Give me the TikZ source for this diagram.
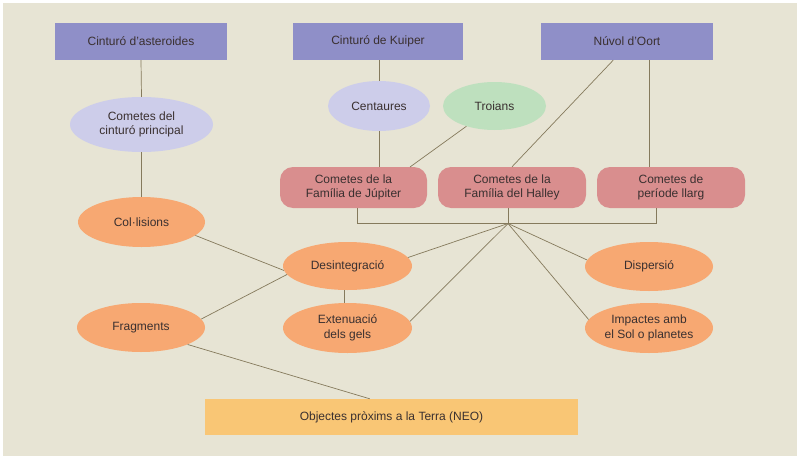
\documentclass[tikz,border=0pt]{standalone}
\usepackage{fontspec}
\setmainfont{Liberation Sans}
\usetikzlibrary{shapes.geometric,calc}
\definecolor{bg}{HTML}{E7E4D4}
\definecolor{topc}{HTML}{8F8FC8}
\definecolor{lav}{HTML}{CDCDEA}
\definecolor{grn}{HTML}{BEE0BE}
\definecolor{pnk}{HTML}{D98E8E}
\definecolor{org}{HTML}{F7A872}
\definecolor{neoc}{HTML}{F9C675}
\definecolor{lnc}{HTML}{857A5C}
\definecolor{txt}{HTML}{3A3030}
\tikzset{
  lbl/.style={text=txt, align=center, font=\fontsize{12}{14.5}\selectfont, inner sep=0pt},
  topbox/.style={lbl, rectangle, fill=topc, minimum width=172pt, minimum height=37pt},
  ell/.style={lbl, ellipse, minimum width=128pt, minimum height=49pt},
  pinkbox/.style={lbl, rectangle, rounded corners=13pt, fill=pnk, minimum width=148pt, minimum height=41pt},
  conn/.style={draw=lnc, line width=0.7pt}
}
\begin{document}
\begin{tikzpicture}[x=1pt,y=-1pt]
\useasboundingbox (0,0) rectangle (800,460);
\fill[white] (0,0) rectangle (800,460);
\fill[bg] (3,3) rectangle (797,456);

% top boxes
\node[topbox] (ast) at (141,41.5) {Cinturó d'asteroides};
\node[topbox, minimum width=170pt] (kui) at (378,41.5) {Cinturó de Kuiper};
\node[topbox] (oort) at (627,41.5) {Núvol d'Oort};

% second row
\node[ell, fill=lav, minimum width=143pt, minimum height=55pt] (ccp) at (141.5,124.5) {Cometes del\\cinturó principal};
\node[ell, fill=lav, minimum width=102pt, minimum height=50pt] (cen) at (379,106) {Centaures};
\node[ell, fill=grn, minimum width=103pt, minimum height=48pt] (tro) at (494.5,106) {Troians};

% comet families
\node[pinkbox, minimum width=147pt] (jup) at (353.5,187.5) {Cometes de la\\Família de Júpiter};
\node[pinkbox] (hal) at (512,187.5) {Cometes de la\\Família del Halley};
\node[pinkbox] (per) at (671,187.5) {Cometes de\\període llarg};

% orange ellipses
\node[ell, fill=org, minimum width=127pt, minimum height=50pt] (col) at (141.5,222) {Col·lisions};
\node[ell, fill=org, minimum width=129pt, minimum height=48pt] (des) at (347.5,266) {Desintegració};
\node[ell, fill=org, minimum width=129pt, minimum height=50pt] (ext) at (347.5,328) {Extenuació\\dels gels};
\node[ell, fill=org, minimum width=128pt, minimum height=49pt] (frag) at (141,327.5) {Fragments};
\node[ell, fill=org, minimum width=128pt, minimum height=49pt] (dis) at (649,266.5) {Dispersió};
\node[ell, fill=org, minimum width=128pt, minimum height=50pt] (imp) at (649,328) {Impactes amb\\el Sol o planetes};

% NEO
\node[lbl, rectangle, fill=neoc, minimum width=373pt, minimum height=36pt] (neo) at (391.5,417) {Objectes pròxims a la Terra (NEO)};

% connector points
\coordinate (hub) at (508,223.5);
\coordinate (jtro) at (410,167);
\coordinate (oa) at ($(oort.south west)!0.42!(oort.south east)$);
\coordinate (ob) at ($(oort.south west)!0.63!(oort.south east)$);
\coordinate (neotop) at ($(neo.north west)+(165,0)$);
\coordinate (jb) at ($(jup.south)+(3.5,0)$);
\coordinate (pb) at ($(per.south)+(-15,0)$);

% connectors
\draw[conn] (ast.south) -- (ccp.north);
\draw[conn] (ccp.south) -- (col.north);
\draw[conn] (cen.north |- kui.south) -- (cen.north);
\draw[conn] (cen.south) -- (cen.south |- jup.north);
\draw[conn] (tro) -- (jtro);
\draw[conn] (oa) -- (hal.north);
\draw[conn] (ob) -- (ob |- per.north);
\draw[conn] (hub) -- (hub |- hal.south);
\draw[conn] (hub) -| (jb);
\draw[conn] (hub) -| (pb);
\draw[conn] (hub) -- (des.8);
\draw[conn] (hub) -- (ext.6);
\draw[conn] (hub) -- (dis.174);
\draw[conn] (hub) -- (imp.172);
\draw[conn] (col.-14) -- (des.184);
\draw[conn] (des.188) -- (frag.8);
\draw[conn] ($(des.south)+(-3,0)$) -- ($(ext.north)+(-3,0)$);
\draw[conn] (frag.-20) -- (neotop);
\end{tikzpicture}
\end{document}
